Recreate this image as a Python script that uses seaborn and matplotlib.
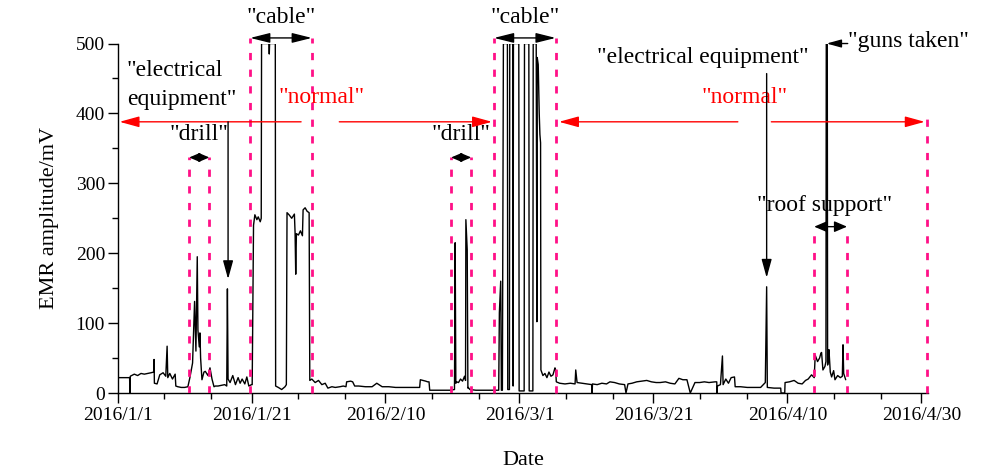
import pandas as pd
import matplotlib
matplotlib.use('Agg')
import matplotlib.pyplot as plt
import matplotlib.dates as mdates
import matplotlib.ticker as mticker
import seaborn as sns

START = pd.Timestamp('2016-01-01')

# EMR record as (days after 2016/1/1, amplitude in mV)
early_jan = [
    (0.0, 22), (1.8, 22), (1.85, 0), (1.9, 24), (2.5, 27), (3.0, 25), (3.5, 28),
    (4.0, 27), (4.5, 28), (5.0, 29), (5.4, 30), (5.45, 48), (5.5, 14), (5.9, 13),
    (6.3, 26), (6.8, 29), (7.2, 24), (7.4, 67), (7.5, 22), (7.8, 28), (8.2, 20),
    (8.6, 27), (8.7, 10), (9.0, 9), (9.5, 8), (10.0, 8), (10.5, 9), (10.8, 22),
    (11.2, 43), (11.5, 131), (11.7, 60), (11.9, 195), (12.0, 90), (12.2, 66),
    (12.3, 86), (12.4, 50), (12.6, 19), (12.9, 30), (13.1, 31), (13.5, 25),
    (13.8, 36), (14.1, 20), (14.4, 9), (14.6, 10), (15.0, 10), (15.5, 11),
    (16.0, 12), (16.3, 10), (16.4, 149), (16.5, 20), (16.8, 15), (17.2, 25),
    (17.6, 12), (18.0, 22), (18.3, 14), (18.6, 20), (19.0, 13), (19.3, 23),
    (19.6, 10), (20.0, 12),
]
cable_jan = [
    (20.1, 12), (20.3, 240), (20.5, 255), (20.8, 248), (21.0, 252), (21.3, 245),
    (21.45, 250), (21.5, 500), (22.6, 500), (22.65, 485), (22.7, 500),
    (23.55, 500), (23.6, 10), (24.0, 8), (24.5, 5), (25.0, 9), (25.2, 12),
    (25.3, 258), (25.6, 255), (26.0, 250), (26.4, 256), (26.5, 230), (26.6, 170),
    (26.7, 228), (27.0, 226), (27.3, 232), (27.6, 225), (27.7, 262), (28.0, 265),
    (28.3, 260), (28.6, 258), (28.7, 18),
]
quiet_feb = [
    (29.0, 20), (29.5, 15), (30.0, 18), (30.5, 12), (31.0, 14), (31.4, 7),
    (32.0, 9), (32.5, 8), (33.2, 9), (33.7, 10), (34.1, 9), (34.2, 16),
    (34.8, 17), (35.1, 16), (35.4, 10), (36.0, 10), (37.0, 9), (38.0, 9),
    (38.7, 14), (39.5, 9), (40.5, 9), (41.5, 8), (42.5, 8), (43.5, 8),
    (44.5, 8), (45.1, 8), (45.2, 19), (45.6, 18), (46.0, 17), (46.3, 16),
    (46.5, 16), (46.6, 4), (47.5, 4), (48.5, 4), (49.6, 4),
]
cable_feb = [
    (50.3, 5), (50.4, 215), (50.5, 14), (50.6, 16), (50.9, 15), (51.2, 20),
    (51.5, 17), (51.8, 24), (51.95, 18), (52.0, 248), (52.2, 205), (52.3, 7),
    (52.35, 8), (52.6, 5), (53.5, 4), (54.5, 4), (55.5, 4), (56.9, 4),
    (57.0, 115), (57.2, 160), (57.3, 4), (57.45, 4), (57.6, 500), (58.2, 500),
    (58.25, 5), (58.5, 5), (58.55, 500), (59.0, 500), (59.05, 10), (59.1, 500),
    (59.9, 500), (59.95, 3), (60.7, 3), (60.75, 500), (61.4, 500), (61.45, 3),
    (62.0, 3), (62.05, 500), (62.5, 500), (62.6, 102), (62.65, 480), (62.8, 470),
    (62.95, 400), (63.05, 370), (63.15, 358), (63.2, 33), (63.5, 25), (63.8, 28),
    (64.1, 22), (64.4, 30), (64.7, 24), (65.0, 26), (65.3, 36),
]
quiet_mar = [
    (65.4, 33), (65.5, 16), (66.0, 14), (66.8, 13), (67.6, 14), (68.3, 13),
    (68.4, 33), (68.6, 15), (69.3, 14), (70.0, 13), (70.8, 12), (70.85, 0),
    (70.9, 13), (71.6, 12), (72.3, 14), (73.0, 13), (73.5, 16), (74.2, 15),
    (74.9, 13), (75.7, 12), (75.9, 0), (76.2, 13), (76.8, 14), (77.5, 16),
    (78.2, 17), (79.0, 18), (79.7, 16), (80.4, 15), (81.0, 15), (81.8, 16),
    (82.5, 14), (83.2, 13), (83.8, 21), (84.4, 19), (85.0, 19), (85.5, 0),
    (86.2, 15), (86.9, 15), (87.6, 16), (88.3, 15), (89.2, 16), (89.45, 16),
    (89.5, 0), (89.55, 10), (90.0, 12), (90.3, 53), (90.4, 12), (90.8, 20),
    (91.2, 14), (91.6, 22), (92.1, 23), (92.2, 9), (93.0, 9), (94.0, 8),
    (95.0, 8), (96.0, 8), (96.7, 15), (96.9, 152), (97.0, 8), (98.0, 7),
    (99.0, 7), (99.05, 0), (99.6, 0), (99.65, 15), (100.3, 16), (101.0, 18),
    (101.6, 14), (102.2, 13), (102.7, 18), (103.1, 20), (103.6, 26), (104.0, 22),
]
roof_apr = [
    (104.15, 54), (104.5, 45), (104.8, 50), (105.0, 57), (105.1, 58),
    (105.3, 33), (105.6, 38), (105.75, 45), (105.8, 500), (105.95, 500),
    (106.0, 40), (106.1, 45), (106.2, 62), (106.4, 30), (106.6, 23),
    (106.9, 32), (107.1, 19), (107.5, 25), (107.9, 22), (108.2, 24),
    (108.3, 69), (108.4, 28), (108.6, 22), (108.7, 19),
]

tick_dates = ['2016-01-01', '2016-01-21', '2016-02-10', '2016-03-01',
              '2016-03-21', '2016-04-10', '2016-04-30']

# event windows, days after 2016/1/1
drill_windows = [(10.7, 13.7), (49.8, 52.8)]
cable_windows = [(19.8, 29.0), (56.2, 65.4)]
roof_window = (104.0, 108.9)
end_day = 120.9

df = pd.DataFrame(early_jan + cable_jan + quiet_feb + cable_feb + quiet_mar + roof_apr,
                  columns=['day', 'emr'])
df['date'] = START + pd.to_timedelta(df['day'], unit='D')

sns.set_theme(style='ticks')
plt.rcParams['font.family'] = ['Liberation Serif', 'DejaVu Serif']
for k in ['axes.edgecolor', 'text.color', 'axes.labelcolor', 'xtick.color', 'ytick.color']:
    plt.rcParams[k] = 'black'

fig = plt.figure(figsize=(9.82, 4.69), dpi=100)
ax = fig.add_axes([0.1197, 0.162, 0.8254, 0.7452])

sns.lineplot(data=df, x='date', y='emr', ax=ax, color='black', lw=1.0,
             sort=False, estimator=None)


def d(x):
    return mdates.date2num(START + pd.Timedelta(days=x))


PINK = '#ff1087'
dash = (0, (2.6, 3.4))

# dashed event boundaries
for a, b in cable_windows:
    for x in (a, b):
        ax.plot([d(x), d(x)], [0, 508], color=PINK, lw=2, ls=dash, clip_on=False, zorder=3)
for a, b in drill_windows:
    for x in (a, b):
        ax.plot([d(x), d(x)], [0, 337], color=PINK, lw=2, ls=dash, zorder=3)
for x in roof_window:
    ax.plot([d(x), d(x)], [0, 238], color=PINK, lw=2, ls=dash, zorder=3)
ax.plot([d(end_day), d(end_day)], [0, 395], color=PINK, lw=2, ls=dash, clip_on=False, zorder=3)


def harrow(x0, x1, y, style, color='black', scale=15):
    ax.annotate('', xy=(d(x1), y), xytext=(d(x0), y), annotation_clip=False,
                arrowprops=dict(arrowstyle=style, color=color, lw=1,
                                shrinkA=0, shrinkB=0, mutation_scale=scale))


big2 = '<|-|>,head_length=0.8,head_width=0.2'
small2 = '<|-|>,head_length=0.7,head_width=0.3'
one = '-|>,head_length=0.8,head_width=0.22'

TXT = 17
# cable
for a, b in cable_windows:
    harrow(a, b, 508, big2)
    ax.text(d((a + b) / 2), 537, '"cable"', ha='center', va='center', fontsize=TXT)
# drill
for a, b in drill_windows:
    harrow(a, b, 337, small2, scale=9)
    ax.text(d((a + b) / 2), 370, '"drill"', ha='center', va='center', fontsize=TXT)
# roof support
harrow(roof_window[0], roof_window[1], 238, small2, scale=11)
ax.text(d(105.6), 268, '"roof support"', ha='center', va='center', fontsize=TXT)

# normal periods (red)
harrow(27.4, 0.3, 388, one, color='red')
harrow(33.1, 55.9, 388, one, color='red')
harrow(92.6, 65.9, 388, one, color='red')
harrow(97.6, 120.5, 388, one, color='red')
ax.text(d(30.5), 423, '"normal"', ha='center', va='center', fontsize=TXT, color='red')
ax.text(d(93.6), 423, '"normal"', ha='center', va='center', fontsize=TXT, color='red')

# electrical equipment
ax.text(d(1.4), 441, '"electrical\nequipment"', ha='left', va='center',
        fontsize=TXT, linespacing=1.5)
ax.annotate('', xy=(d(16.5), 163), xytext=(d(16.5), 388),
            arrowprops=dict(arrowstyle=one, color='black', lw=1,
                            shrinkA=0, shrinkB=0, mutation_scale=14))
ax.text(d(87.3), 480, '"electrical equipment"', ha='center', va='center', fontsize=TXT)
ax.annotate('', xy=(d(96.9), 165), xytext=(d(96.9), 457),
            arrowprops=dict(arrowstyle=one, color='black', lw=1,
                            shrinkA=0, shrinkB=0, mutation_scale=14))

# guns taken
ax.annotate('', xy=(d(105.85), 500), xytext=(d(109.0), 500), annotation_clip=False,
            arrowprops=dict(arrowstyle=one, color='black', lw=1,
                            shrinkA=0, shrinkB=0, mutation_scale=11))
ax.text(d(109.0), 503, '"guns taken"', ha='left', va='center', fontsize=TXT)

# axes
ax.set_xlim(d(0), d(121))
ax.set_ylim(0, 500)
majors = [mdates.date2num(pd.Timestamp(t)) for t in tick_dates]
minors = [m + k for m in majors[:-1] for k in (7, 14)]
ax.xaxis.set_major_locator(mticker.FixedLocator(majors))
ax.xaxis.set_minor_locator(mticker.FixedLocator(minors))
ax.xaxis.set_major_formatter(mticker.FuncFormatter(
    lambda v, p: '{0.year}/{0.month}/{0.day}'.format(mdates.num2date(v))))
ax.yaxis.set_major_locator(mticker.MultipleLocator(100))
ax.yaxis.set_minor_locator(mticker.MultipleLocator(50))
ax.tick_params(which='major', direction='out', length=7, width=1, labelsize=14, pad=3)
ax.tick_params(axis='y', which='major', pad=2)
ax.tick_params(which='minor', direction='out', length=4, width=1)
sns.despine(ax=ax)
ax.spines['left'].set_linewidth(1)
ax.spines['bottom'].set_linewidth(1)

ax.set_xlabel('Date', fontsize=16)
ax.set_ylabel('EMR amplitude/mV', fontsize=16)
ax.xaxis.set_label_coords(0.5, -0.165)
ax.yaxis.set_label_coords(-0.072, 0.5)

fig.savefig('out.png', dpi=100)
